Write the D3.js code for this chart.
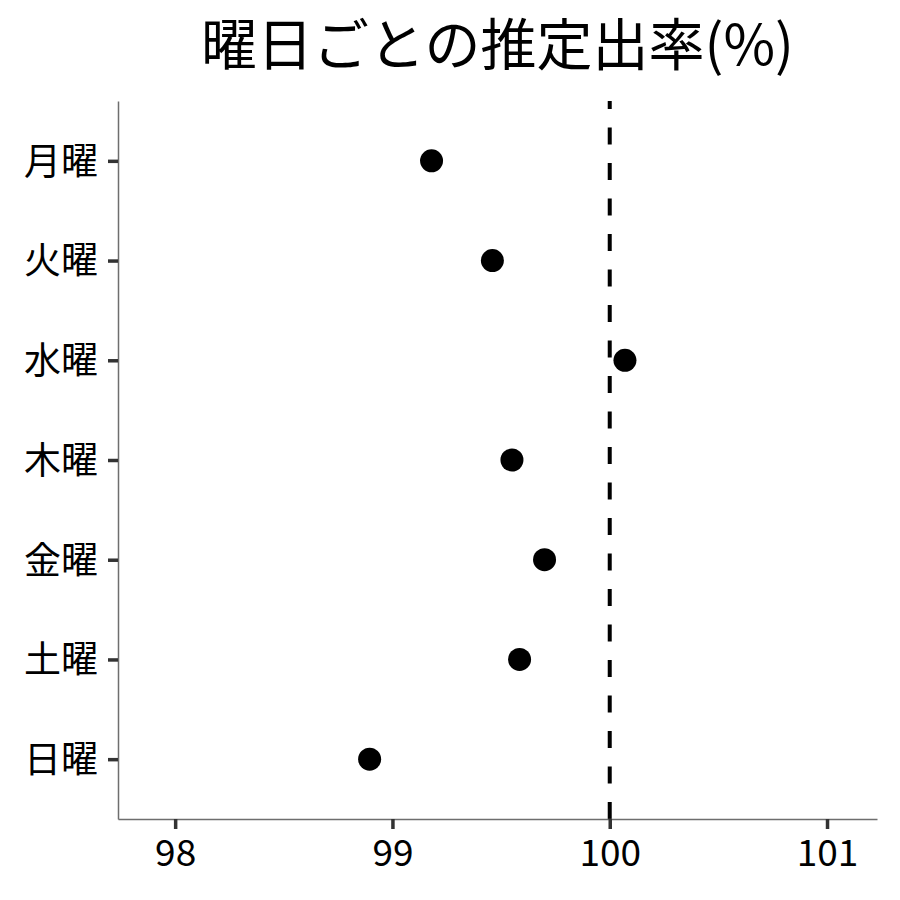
<!DOCTYPE html>
<html>
<head>
<meta charset="utf-8">
<script src="https://cdn.jsdelivr.net/npm/d3@7"></script>
<style>
  body { margin: 0; background: #fff; }
  text { font-family: "Noto Sans CJK JP", "Noto Sans", sans-serif; }
</style>
</head>
<body>
<svg id="chart"></svg>
<script>
// data
const days = ["月曜", "火曜", "水曜", "木曜", "金曜", "土曜", "日曜"]
const rates = [99.18, 99.46, 100.07, 99.55, 99.70, 99.585, 98.895]
const xTicks = [98, 99, 100, 101]
const refValue = 100
const title = "曜日ごとの推定出率(%)"

const W = 900, H = 900
var margin = {top: 101, right: 23, bottom: 81, left: 118},
  width = W - margin.left - margin.right,
  height = H - margin.top - margin.bottom;

const svg = d3.select("#chart")
  .attr("width", W)
  .attr("height", H)

const g = svg.append("g")
  .attr("transform", "translate(" + margin.left + "," + margin.top + ")")

var x = d3.scaleLinear()
  .domain([97.737, 101.23])
  .range([0, width])

// discrete y with ggplot-like 0.6 expansion
var y = d3.scalePoint()
  .domain(days)
  .range([0, height])
  .padding(0.6)

// reference line, dashes start from the bottom
g.append("line")
  .attr("x1", x(refValue)).attr("x2", x(refValue))
  .attr("y1", height).attr("y2", 0)
  .attr("stroke", "#000")
  .attr("stroke-width", 4)
  .attr("stroke-dasharray", "17,18.5")

// points
g.selectAll("circle")
  .data(days)
  .enter().append("circle")
  .attr("cx", (d, i) => x(rates[i]))
  .attr("cy", d => y(d))
  .attr("r", 11.5)
  .attr("fill", "#000")

// x axis
const xAxis = g.append("g")
  .attr("transform", "translate(0," + height + ")")
  .call(d3.axisBottom(x).tickValues(xTicks).tickSizeInner(10).tickSizeOuter(0).tickPadding(7).tickFormat(d3.format("d")))

// y axis
const yAxis = g.append("g")
  .call(d3.axisLeft(y).tickSizeInner(10).tickSizeOuter(0).tickPadding(10))

g.selectAll(".domain")
  .attr("stroke", "#6e6e6e")
  .attr("stroke-width", 1.5)

g.selectAll(".tick line")
  .attr("stroke", "#333")
  .attr("stroke-width", 3.5)

g.selectAll(".tick text")
  .attr("fill", "#000")
  .attr("font-size", "37px")
  .attr("font-family", "'Noto Sans CJK JP', sans-serif")

xAxis.selectAll(".tick text").attr("dy", "0.82em")
yAxis.selectAll(".tick text").attr("dy", "0.36em")

// title
svg.append("text")
  .attr("x", margin.left + width / 2)
  .attr("y", 65)
  .attr("text-anchor", "middle")
  .attr("font-size", "56px")
  .attr("fill", "#000")
  .text(title)
</script>
</body>
</html>
